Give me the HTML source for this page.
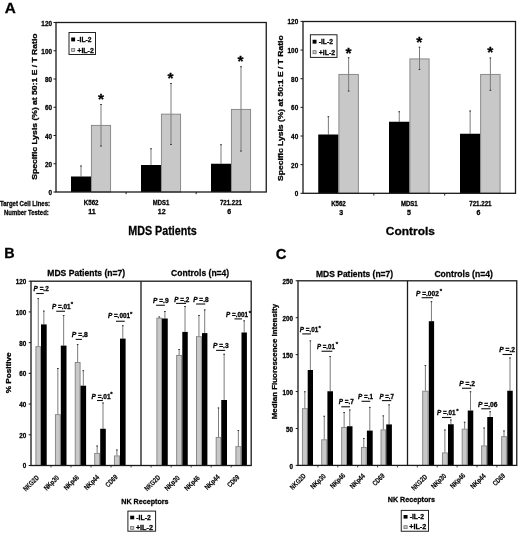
<!DOCTYPE html>
<html><head><meta charset="utf-8"><style>
html,body{margin:0;padding:0;background:#fff;}
svg{display:block;filter:grayscale(1) blur(0.3px);font-family:"Liberation Sans", sans-serif;}
text{stroke:#000;stroke-width:0.28px;}
</style></head><body>
<svg width="520" height="534" viewBox="0 0 520 534">
<text x="4.8" y="12.6" font-size="15.3" font-weight="bold" text-anchor="start" fill="#000">A</text>
<line x1="53.5" y1="192.0" x2="56" y2="192.0" stroke="#1a1a1a" stroke-width="1"/>
<text x="52" y="195.0" font-size="6.5" font-weight="bold" text-anchor="end" fill="#000" textLength="3.55" lengthAdjust="spacingAndGlyphs">0</text>
<line x1="53.5" y1="163.75" x2="56" y2="163.75" stroke="#1a1a1a" stroke-width="1"/>
<text x="52" y="166.75" font-size="6.5" font-weight="bold" text-anchor="end" fill="#000" textLength="7.1" lengthAdjust="spacingAndGlyphs">20</text>
<line x1="53.5" y1="135.5" x2="56" y2="135.5" stroke="#1a1a1a" stroke-width="1"/>
<text x="52" y="138.5" font-size="6.5" font-weight="bold" text-anchor="end" fill="#000" textLength="7.1" lengthAdjust="spacingAndGlyphs">40</text>
<line x1="53.5" y1="107.25" x2="56" y2="107.25" stroke="#1a1a1a" stroke-width="1"/>
<text x="52" y="110.25" font-size="6.5" font-weight="bold" text-anchor="end" fill="#000" textLength="7.1" lengthAdjust="spacingAndGlyphs">60</text>
<line x1="53.5" y1="79.0" x2="56" y2="79.0" stroke="#1a1a1a" stroke-width="1"/>
<text x="52" y="82.0" font-size="6.5" font-weight="bold" text-anchor="end" fill="#000" textLength="7.1" lengthAdjust="spacingAndGlyphs">80</text>
<line x1="53.5" y1="50.75" x2="56" y2="50.75" stroke="#1a1a1a" stroke-width="1"/>
<text x="52" y="53.75" font-size="6.5" font-weight="bold" text-anchor="end" fill="#000" textLength="10.649999999999999" lengthAdjust="spacingAndGlyphs">100</text>
<line x1="53.5" y1="22.5" x2="56" y2="22.5" stroke="#1a1a1a" stroke-width="1"/>
<text x="52" y="25.5" font-size="6.5" font-weight="bold" text-anchor="end" fill="#000" textLength="10.649999999999999" lengthAdjust="spacingAndGlyphs">120</text>
<line x1="126.08333333333333" y1="192" x2="126.08333333333333" y2="194.2" stroke="#1a1a1a" stroke-width="1"/>
<line x1="196.16666666666666" y1="192" x2="196.16666666666666" y2="194.2" stroke="#1a1a1a" stroke-width="1"/>
<line x1="81.0" y1="165.5" x2="81.0" y2="176.5" stroke="#7c7c7c" stroke-width="1"/>
<line x1="80.2" y1="166.0" x2="81.8" y2="166.0" stroke="#333" stroke-width="1"/>
<rect x="71" y="176.5" width="20" height="15.5" fill="#000"/>
<rect x="91.4" y="125.4" width="19.2" height="66.6" fill="#c8c8c8" stroke="#828282" stroke-width="0.9"/>
<line x1="101.0" y1="104" x2="101.0" y2="146.5" stroke="#7c7c7c" stroke-width="1"/>
<line x1="100.2" y1="104.5" x2="101.8" y2="104.5" stroke="#333" stroke-width="1"/>
<line x1="100.2" y1="146.0" x2="101.8" y2="146.0" stroke="#333" stroke-width="1"/>
<line x1="151.0" y1="148.25" x2="151.0" y2="165" stroke="#7c7c7c" stroke-width="1"/>
<line x1="150.2" y1="148.75" x2="151.8" y2="148.75" stroke="#333" stroke-width="1"/>
<rect x="141" y="165" width="20" height="27" fill="#000"/>
<rect x="161.4" y="114.15" width="19.2" height="77.85" fill="#c8c8c8" stroke="#828282" stroke-width="0.9"/>
<line x1="171.0" y1="83" x2="171.0" y2="145" stroke="#7c7c7c" stroke-width="1"/>
<line x1="170.2" y1="83.5" x2="171.8" y2="83.5" stroke="#333" stroke-width="1"/>
<line x1="170.2" y1="144.5" x2="171.8" y2="144.5" stroke="#333" stroke-width="1"/>
<line x1="221.0" y1="144.25" x2="221.0" y2="163.75" stroke="#7c7c7c" stroke-width="1"/>
<line x1="220.2" y1="144.75" x2="221.8" y2="144.75" stroke="#333" stroke-width="1"/>
<rect x="211" y="163.75" width="20" height="28.25" fill="#000"/>
<rect x="231.4" y="109.4" width="19.2" height="82.6" fill="#c8c8c8" stroke="#828282" stroke-width="0.9"/>
<line x1="241.0" y1="66.25" x2="241.0" y2="151.5" stroke="#7c7c7c" stroke-width="1"/>
<line x1="240.2" y1="66.75" x2="241.8" y2="66.75" stroke="#333" stroke-width="1"/>
<line x1="240.2" y1="151.0" x2="241.8" y2="151.0" stroke="#333" stroke-width="1"/>
<rect x="56" y="22.5" width="210.25" height="169.5" fill="none" stroke="#1a1a1a" stroke-width="1.3"/>
<text x="101" y="103.6" font-size="15.5" font-weight="bold" text-anchor="middle" fill="#000">*</text>
<text x="170.6" y="83.1" font-size="15.5" font-weight="bold" text-anchor="middle" fill="#000">*</text>
<text x="240.4" y="65.9" font-size="15.5" font-weight="bold" text-anchor="middle" fill="#000">*</text>
<rect x="69" y="32.5" width="26.5" height="22.0" fill="#fff" stroke="#222" stroke-width="1"/>
<rect x="71.2" y="37.5" width="3.9" height="3.9" fill="#000"/>
<rect x="71.60000000000001" y="48.4" width="3.1" height="3.1" fill="#c8c8c8" stroke="#777" stroke-width="0.8"/>
<text x="77.3" y="41.9" font-size="7.5" font-weight="bold" text-anchor="start" fill="#000" textLength="14.3" lengthAdjust="spacingAndGlyphs">-IL-2</text>
<text x="77.3" y="52.6" font-size="7.5" font-weight="bold" text-anchor="start" fill="#000" textLength="16.5" lengthAdjust="spacingAndGlyphs">+IL-2</text>
<text transform="translate(36.9,106.65) rotate(-90)" font-size="7.5" font-weight="bold" text-anchor="middle" textLength="146.3" lengthAdjust="spacingAndGlyphs">Specific Lysis (%) at 50:1 E / T Ratio</text>
<line x1="300.5" y1="193.3" x2="303" y2="193.3" stroke="#1a1a1a" stroke-width="1"/>
<text x="298.2" y="196.3" font-size="6.5" font-weight="bold" text-anchor="end" fill="#000" textLength="3.55" lengthAdjust="spacingAndGlyphs">0</text>
<line x1="300.5" y1="164.65" x2="303" y2="164.65" stroke="#1a1a1a" stroke-width="1"/>
<text x="298.2" y="167.65" font-size="6.5" font-weight="bold" text-anchor="end" fill="#000" textLength="7.1" lengthAdjust="spacingAndGlyphs">20</text>
<line x1="300.5" y1="136.0" x2="303" y2="136.0" stroke="#1a1a1a" stroke-width="1"/>
<text x="298.2" y="139.0" font-size="6.5" font-weight="bold" text-anchor="end" fill="#000" textLength="7.1" lengthAdjust="spacingAndGlyphs">40</text>
<line x1="300.5" y1="107.35000000000001" x2="303" y2="107.35000000000001" stroke="#1a1a1a" stroke-width="1"/>
<text x="298.2" y="110.35" font-size="6.5" font-weight="bold" text-anchor="end" fill="#000" textLength="7.1" lengthAdjust="spacingAndGlyphs">60</text>
<line x1="300.5" y1="78.7" x2="303" y2="78.7" stroke="#1a1a1a" stroke-width="1"/>
<text x="298.2" y="81.7" font-size="6.5" font-weight="bold" text-anchor="end" fill="#000" textLength="7.1" lengthAdjust="spacingAndGlyphs">80</text>
<line x1="300.5" y1="50.05000000000001" x2="303" y2="50.05000000000001" stroke="#1a1a1a" stroke-width="1"/>
<text x="298.2" y="53.05" font-size="6.5" font-weight="bold" text-anchor="end" fill="#000" textLength="10.649999999999999" lengthAdjust="spacingAndGlyphs">100</text>
<line x1="300.5" y1="21.400000000000006" x2="303" y2="21.400000000000006" stroke="#1a1a1a" stroke-width="1"/>
<text x="298.2" y="24.4" font-size="6.5" font-weight="bold" text-anchor="end" fill="#000" textLength="10.649999999999999" lengthAdjust="spacingAndGlyphs">120</text>
<line x1="373.8333333333333" y1="193.3" x2="373.8333333333333" y2="195.5" stroke="#1a1a1a" stroke-width="1"/>
<line x1="444.66666666666663" y1="193.3" x2="444.66666666666663" y2="195.5" stroke="#1a1a1a" stroke-width="1"/>
<line x1="328.375" y1="116.25" x2="328.375" y2="134.5" stroke="#7c7c7c" stroke-width="1"/>
<line x1="327.575" y1="116.75" x2="329.175" y2="116.75" stroke="#333" stroke-width="1"/>
<rect x="318.25" y="134.5" width="20.25" height="58.80000000000001" fill="#000"/>
<rect x="338.9" y="74.4" width="19.45" height="118.9" fill="#c8c8c8" stroke="#828282" stroke-width="0.9"/>
<line x1="348.625" y1="57.25" x2="348.625" y2="91.5" stroke="#7c7c7c" stroke-width="1"/>
<line x1="347.825" y1="57.75" x2="349.425" y2="57.75" stroke="#333" stroke-width="1"/>
<line x1="347.825" y1="91.0" x2="349.425" y2="91.0" stroke="#333" stroke-width="1"/>
<line x1="399.25" y1="111.25" x2="399.25" y2="121.75" stroke="#7c7c7c" stroke-width="1"/>
<line x1="398.45" y1="111.75" x2="400.05" y2="111.75" stroke="#333" stroke-width="1"/>
<rect x="389" y="121.75" width="20.5" height="71.55000000000001" fill="#000"/>
<rect x="409.9" y="58.9" width="19.2" height="134.4" fill="#c8c8c8" stroke="#828282" stroke-width="0.9"/>
<line x1="419.5" y1="46.75" x2="419.5" y2="70" stroke="#7c7c7c" stroke-width="1"/>
<line x1="418.7" y1="47.25" x2="420.3" y2="47.25" stroke="#333" stroke-width="1"/>
<line x1="418.7" y1="69.5" x2="420.3" y2="69.5" stroke="#333" stroke-width="1"/>
<line x1="470.125" y1="110.5" x2="470.125" y2="133.75" stroke="#7c7c7c" stroke-width="1"/>
<line x1="469.325" y1="111.0" x2="470.925" y2="111.0" stroke="#333" stroke-width="1"/>
<rect x="460" y="133.75" width="20.25" height="59.55000000000001" fill="#000"/>
<rect x="480.65" y="74.4" width="19.45" height="118.9" fill="#c8c8c8" stroke="#828282" stroke-width="0.9"/>
<line x1="490.375" y1="57.5" x2="490.375" y2="90.75" stroke="#7c7c7c" stroke-width="1"/>
<line x1="489.575" y1="58.0" x2="491.175" y2="58.0" stroke="#333" stroke-width="1"/>
<line x1="489.575" y1="90.25" x2="491.175" y2="90.25" stroke="#333" stroke-width="1"/>
<rect x="303" y="21.5" width="212.5" height="171.8" fill="none" stroke="#1a1a1a" stroke-width="1.3"/>
<text x="348.4" y="58.1" font-size="15.5" font-weight="bold" text-anchor="middle" fill="#000">*</text>
<text x="419.2" y="47.1" font-size="15.5" font-weight="bold" text-anchor="middle" fill="#000">*</text>
<text x="490.2" y="57.4" font-size="15.5" font-weight="bold" text-anchor="middle" fill="#000">*</text>
<rect x="310.4" y="34.75" width="26.600000000000023" height="22.65" fill="#fff" stroke="#222" stroke-width="1"/>
<rect x="312.59999999999997" y="39.75" width="3.9" height="3.9" fill="#000"/>
<rect x="312.99999999999994" y="50.65" width="3.1" height="3.1" fill="#c8c8c8" stroke="#777" stroke-width="0.8"/>
<text x="318.7" y="44.15" font-size="7.5" font-weight="bold" text-anchor="start" fill="#000" textLength="14.3" lengthAdjust="spacingAndGlyphs">-IL-2</text>
<text x="318.7" y="54.85" font-size="7.5" font-weight="bold" text-anchor="start" fill="#000" textLength="16.5" lengthAdjust="spacingAndGlyphs">+IL-2</text>
<text transform="translate(283,108.2) rotate(-90)" font-size="7.5" font-weight="bold" text-anchor="middle" textLength="145.6" lengthAdjust="spacingAndGlyphs">Specific Lysis (%) at 50:1 E / T Ratio</text>
<text x="0" y="205.6" font-size="7" font-weight="bold" text-anchor="start" fill="#000" textLength="50" lengthAdjust="spacingAndGlyphs">Target Cell Lines:</text>
<text x="48.75" y="214.9" font-size="7" font-weight="bold" text-anchor="end" fill="#000" textLength="44.75" lengthAdjust="spacingAndGlyphs">Number Tested:</text>
<text x="91.15" y="205.1" font-size="6.5" font-weight="bold" text-anchor="middle" fill="#000" textLength="14.6" lengthAdjust="spacingAndGlyphs">K562</text>
<text x="91.9" y="214.4" font-size="7" font-weight="bold" text-anchor="middle" fill="#000">11</text>
<text x="160.95" y="205.1" font-size="6.5" font-weight="bold" text-anchor="middle" fill="#000" textLength="16.5" lengthAdjust="spacingAndGlyphs">MDS1</text>
<text x="161.65" y="214.4" font-size="7" font-weight="bold" text-anchor="middle" fill="#000">12</text>
<text x="230.95" y="205.1" font-size="6.5" font-weight="bold" text-anchor="middle" fill="#000" textLength="22" lengthAdjust="spacingAndGlyphs">721.221</text>
<text x="229.2" y="214.4" font-size="7" font-weight="bold" text-anchor="middle" fill="#000">6</text>
<text x="338.45" y="206.4" font-size="6.5" font-weight="bold" text-anchor="middle" fill="#000" textLength="14.6" lengthAdjust="spacingAndGlyphs">K562</text>
<text x="341.15" y="214.7" font-size="7" font-weight="bold" text-anchor="middle" fill="#000">3</text>
<text x="409.25" y="206.4" font-size="6.5" font-weight="bold" text-anchor="middle" fill="#000" textLength="16.7" lengthAdjust="spacingAndGlyphs">MDS1</text>
<text x="409.05" y="214.7" font-size="7" font-weight="bold" text-anchor="middle" fill="#000">5</text>
<text x="480.4" y="206.4" font-size="6.5" font-weight="bold" text-anchor="middle" fill="#000" textLength="22.3" lengthAdjust="spacingAndGlyphs">721.221</text>
<text x="478.55" y="214.7" font-size="7" font-weight="bold" text-anchor="middle" fill="#000">6</text>
<text x="128.2" y="234.6" font-size="12.6" font-weight="bold" text-anchor="start" fill="#000" textLength="68.6" lengthAdjust="spacingAndGlyphs">MDS Patients</text>
<text x="385.8" y="234.5" font-size="11.3" font-weight="bold" text-anchor="start" fill="#000" textLength="49.1" lengthAdjust="spacingAndGlyphs">Controls</text>
<line x1="28.7" y1="465.5" x2="31" y2="465.5" stroke="#1a1a1a" stroke-width="1"/>
<text x="26.3" y="468.4" font-size="6.5" font-weight="bold" text-anchor="end" fill="#000" textLength="3.5" lengthAdjust="spacingAndGlyphs">0</text>
<line x1="28.7" y1="434.784" x2="31" y2="434.784" stroke="#1a1a1a" stroke-width="1"/>
<text x="26.3" y="437.68" font-size="6.5" font-weight="bold" text-anchor="end" fill="#000" textLength="7.0" lengthAdjust="spacingAndGlyphs">20</text>
<line x1="28.7" y1="404.068" x2="31" y2="404.068" stroke="#1a1a1a" stroke-width="1"/>
<text x="26.3" y="406.97" font-size="6.5" font-weight="bold" text-anchor="end" fill="#000" textLength="7.0" lengthAdjust="spacingAndGlyphs">40</text>
<line x1="28.7" y1="373.352" x2="31" y2="373.352" stroke="#1a1a1a" stroke-width="1"/>
<text x="26.3" y="376.25" font-size="6.5" font-weight="bold" text-anchor="end" fill="#000" textLength="7.0" lengthAdjust="spacingAndGlyphs">60</text>
<line x1="28.7" y1="342.63599999999997" x2="31" y2="342.63599999999997" stroke="#1a1a1a" stroke-width="1"/>
<text x="26.3" y="345.54" font-size="6.5" font-weight="bold" text-anchor="end" fill="#000" textLength="7.0" lengthAdjust="spacingAndGlyphs">80</text>
<line x1="28.7" y1="311.91999999999996" x2="31" y2="311.91999999999996" stroke="#1a1a1a" stroke-width="1"/>
<text x="26.3" y="314.82" font-size="6.5" font-weight="bold" text-anchor="end" fill="#000" textLength="10.5" lengthAdjust="spacingAndGlyphs">100</text>
<line x1="28.7" y1="281.204" x2="31" y2="281.204" stroke="#1a1a1a" stroke-width="1"/>
<text x="26.3" y="284.1" font-size="6.5" font-weight="bold" text-anchor="end" fill="#000" textLength="10.5" lengthAdjust="spacingAndGlyphs">120</text>
<line x1="51.018181818181816" y1="465.5" x2="51.018181818181816" y2="467.5" stroke="#1a1a1a" stroke-width="0.8"/>
<line x1="71.03636363636363" y1="465.5" x2="71.03636363636363" y2="467.5" stroke="#1a1a1a" stroke-width="0.8"/>
<line x1="91.05454545454545" y1="465.5" x2="91.05454545454545" y2="467.5" stroke="#1a1a1a" stroke-width="0.8"/>
<line x1="111.07272727272726" y1="465.5" x2="111.07272727272726" y2="467.5" stroke="#1a1a1a" stroke-width="0.8"/>
<line x1="131.09090909090907" y1="465.5" x2="131.09090909090907" y2="467.5" stroke="#1a1a1a" stroke-width="0.8"/>
<line x1="151.1090909090909" y1="465.5" x2="151.1090909090909" y2="467.5" stroke="#1a1a1a" stroke-width="0.8"/>
<line x1="171.12727272727273" y1="465.5" x2="171.12727272727273" y2="467.5" stroke="#1a1a1a" stroke-width="0.8"/>
<line x1="191.14545454545453" y1="465.5" x2="191.14545454545453" y2="467.5" stroke="#1a1a1a" stroke-width="0.8"/>
<line x1="211.16363636363633" y1="465.5" x2="211.16363636363633" y2="467.5" stroke="#1a1a1a" stroke-width="0.8"/>
<line x1="231.18181818181816" y1="465.5" x2="231.18181818181816" y2="467.5" stroke="#1a1a1a" stroke-width="0.8"/>
<line x1="38.25" y1="298.1" x2="38.25" y2="346.25" stroke="#7c7c7c" stroke-width="1"/>
<line x1="37.45" y1="298.6" x2="39.05" y2="298.6" stroke="#333" stroke-width="1"/>
<line x1="43.85" y1="310.6" x2="43.85" y2="324.4" stroke="#7c7c7c" stroke-width="1"/>
<line x1="43.050000000000004" y1="311.1" x2="44.65" y2="311.1" stroke="#333" stroke-width="1"/>
<rect x="35.9" y="346.65" width="4.7" height="118.85" fill="#c8c8c8" stroke="#828282" stroke-width="0.9"/>
<rect x="41" y="324.4" width="5.700000000000003" height="141.10000000000002" fill="#000"/>
<line x1="57.85" y1="368" x2="57.85" y2="414.25" stroke="#7c7c7c" stroke-width="1"/>
<line x1="57.050000000000004" y1="368.5" x2="58.65" y2="368.5" stroke="#333" stroke-width="1"/>
<line x1="63.65" y1="315" x2="63.65" y2="345.6" stroke="#7c7c7c" stroke-width="1"/>
<line x1="62.85" y1="315.5" x2="64.45" y2="315.5" stroke="#333" stroke-width="1"/>
<rect x="55.4" y="414.65" width="4.9" height="50.85" fill="#c8c8c8" stroke="#828282" stroke-width="0.9"/>
<rect x="60.8" y="345.6" width="5.700000000000003" height="119.89999999999998" fill="#000"/>
<line x1="77.65" y1="344.1" x2="77.65" y2="362.1" stroke="#7c7c7c" stroke-width="1"/>
<line x1="76.85000000000001" y1="344.6" x2="78.45" y2="344.6" stroke="#333" stroke-width="1"/>
<line x1="83.3" y1="370.2" x2="83.3" y2="385.7" stroke="#7c7c7c" stroke-width="1"/>
<line x1="82.5" y1="370.7" x2="84.1" y2="370.7" stroke="#333" stroke-width="1"/>
<rect x="75.2" y="362.5" width="4.9" height="103.0" fill="#c8c8c8" stroke="#828282" stroke-width="0.9"/>
<rect x="80.5" y="385.7" width="5.599999999999994" height="79.80000000000001" fill="#000"/>
<line x1="97.15" y1="445.5" x2="97.15" y2="453" stroke="#7c7c7c" stroke-width="1"/>
<line x1="96.35000000000001" y1="446.0" x2="97.95" y2="446.0" stroke="#333" stroke-width="1"/>
<line x1="103.0" y1="402.5" x2="103.0" y2="428.75" stroke="#7c7c7c" stroke-width="1"/>
<line x1="102.2" y1="403.0" x2="103.8" y2="403.0" stroke="#333" stroke-width="1"/>
<rect x="94.7" y="453.4" width="4.9" height="12.1" fill="#c8c8c8" stroke="#828282" stroke-width="0.9"/>
<rect x="100.2" y="428.75" width="5.599999999999994" height="36.75" fill="#000"/>
<line x1="116.9" y1="449.5" x2="116.9" y2="455.5" stroke="#7c7c7c" stroke-width="1"/>
<line x1="116.10000000000001" y1="450.0" x2="117.7" y2="450.0" stroke="#333" stroke-width="1"/>
<line x1="122.8" y1="325.2" x2="122.8" y2="338.6" stroke="#7c7c7c" stroke-width="1"/>
<line x1="122.0" y1="325.7" x2="123.6" y2="325.7" stroke="#333" stroke-width="1"/>
<rect x="114.4" y="455.9" width="5.0" height="9.6" fill="#c8c8c8" stroke="#828282" stroke-width="0.9"/>
<rect x="120" y="338.6" width="5.599999999999994" height="126.89999999999998" fill="#000"/>
<line x1="159.25" y1="316.5" x2="159.25" y2="317.75" stroke="#7c7c7c" stroke-width="1"/>
<line x1="158.45" y1="317.0" x2="160.05" y2="317.0" stroke="#333" stroke-width="1"/>
<line x1="164.875" y1="311" x2="164.875" y2="318.5" stroke="#7c7c7c" stroke-width="1"/>
<line x1="164.075" y1="311.5" x2="165.675" y2="311.5" stroke="#333" stroke-width="1"/>
<rect x="156.9" y="318.15" width="4.7" height="147.35" fill="#c8c8c8" stroke="#828282" stroke-width="0.9"/>
<rect x="162" y="318.5" width="5.75" height="147.0" fill="#000"/>
<line x1="179.125" y1="349" x2="179.125" y2="355" stroke="#7c7c7c" stroke-width="1"/>
<line x1="178.325" y1="349.5" x2="179.925" y2="349.5" stroke="#333" stroke-width="1"/>
<line x1="185.025" y1="306" x2="185.025" y2="331.9" stroke="#7c7c7c" stroke-width="1"/>
<line x1="184.225" y1="306.5" x2="185.82500000000002" y2="306.5" stroke="#333" stroke-width="1"/>
<rect x="176.65" y="355.4" width="4.95" height="110.1" fill="#c8c8c8" stroke="#828282" stroke-width="0.9"/>
<rect x="182.3" y="331.9" width="5.449999999999989" height="133.60000000000002" fill="#000"/>
<line x1="198.95" y1="315" x2="198.95" y2="336.25" stroke="#7c7c7c" stroke-width="1"/>
<line x1="198.14999999999998" y1="315.5" x2="199.75" y2="315.5" stroke="#333" stroke-width="1"/>
<line x1="204.7" y1="309.4" x2="204.7" y2="333.1" stroke="#7c7c7c" stroke-width="1"/>
<line x1="203.89999999999998" y1="309.9" x2="205.5" y2="309.9" stroke="#333" stroke-width="1"/>
<rect x="196.5" y="336.65" width="4.9" height="128.85" fill="#c8c8c8" stroke="#828282" stroke-width="0.9"/>
<rect x="202" y="333.1" width="5.400000000000006" height="132.39999999999998" fill="#000"/>
<line x1="218.5" y1="407.5" x2="218.5" y2="437" stroke="#7c7c7c" stroke-width="1"/>
<line x1="217.7" y1="408.0" x2="219.3" y2="408.0" stroke="#333" stroke-width="1"/>
<line x1="224.125" y1="353.75" x2="224.125" y2="400" stroke="#7c7c7c" stroke-width="1"/>
<line x1="223.325" y1="354.25" x2="224.925" y2="354.25" stroke="#333" stroke-width="1"/>
<rect x="216.15" y="437.4" width="4.7" height="28.1" fill="#c8c8c8" stroke="#828282" stroke-width="0.9"/>
<rect x="221.25" y="400" width="5.75" height="65.5" fill="#000"/>
<line x1="238.35" y1="430" x2="238.35" y2="446.25" stroke="#7c7c7c" stroke-width="1"/>
<line x1="237.54999999999998" y1="430.5" x2="239.15" y2="430.5" stroke="#333" stroke-width="1"/>
<line x1="244.2" y1="320.3" x2="244.2" y2="332.5" stroke="#7c7c7c" stroke-width="1"/>
<line x1="243.39999999999998" y1="320.8" x2="245.0" y2="320.8" stroke="#333" stroke-width="1"/>
<rect x="235.9" y="446.65" width="4.9" height="18.85" fill="#c8c8c8" stroke="#828282" stroke-width="0.9"/>
<rect x="241.5" y="332.5" width="5.400000000000006" height="133.0" fill="#000"/>
<rect x="31" y="281.2" width="220.2" height="184.3" fill="none" stroke="#1a1a1a" stroke-width="1.3"/>
<line x1="141" y1="281.2" x2="141" y2="465.5" stroke="#1a1a1a" stroke-width="1.3"/>
<text x="33.6" y="291.4" font-size="6.3" font-weight="bold" textLength="15.1" lengthAdjust="spacingAndGlyphs"><tspan font-style="italic">P</tspan> =.2</text>
<line x1="36.25" y1="293.5" x2="43.75" y2="293.5" stroke="#111" stroke-width="1.1"/>
<text x="51.9" y="308.75" font-size="6.3" font-weight="bold" textLength="18.6" lengthAdjust="spacingAndGlyphs"><tspan font-style="italic">P</tspan> =.01</text>
<line x1="56.25" y1="311.25" x2="65" y2="311.25" stroke="#111" stroke-width="1.1"/>
<text x="71.8" y="306.35" font-size="6" font-weight="bold" text-anchor="middle" fill="#000">*</text>
<text x="71.8" y="337.3" font-size="6.3" font-weight="bold" textLength="16" lengthAdjust="spacingAndGlyphs"><tspan font-style="italic">P</tspan> =.8</text>
<line x1="75.7" y1="339.4" x2="81.9" y2="339.4" stroke="#111" stroke-width="1.1"/>
<text x="91.6" y="398.8" font-size="6.3" font-weight="bold" textLength="18.9" lengthAdjust="spacingAndGlyphs"><tspan font-style="italic">P</tspan> =.01</text>
<line x1="97" y1="400.5" x2="102.9" y2="400.5" stroke="#111" stroke-width="1.1"/>
<text x="111.5" y="396.40000000000003" font-size="6" font-weight="bold" text-anchor="middle" fill="#000">*</text>
<text x="107.9" y="318.1" font-size="6.3" font-weight="bold" textLength="22.1" lengthAdjust="spacingAndGlyphs"><tspan font-style="italic">P</tspan> =.001</text>
<line x1="116" y1="321.25" x2="124.75" y2="321.25" stroke="#111" stroke-width="1.1"/>
<text x="131.2" y="315.70000000000005" font-size="6" font-weight="bold" text-anchor="middle" fill="#000">*</text>
<text x="153" y="302.75" font-size="6.3" font-weight="bold" textLength="15.6" lengthAdjust="spacingAndGlyphs"><tspan font-style="italic">P</tspan> =.9</text>
<line x1="156.1" y1="305.25" x2="164.9" y2="305.25" stroke="#111" stroke-width="1.1"/>
<text x="174.25" y="301.9" font-size="6.3" font-weight="bold" textLength="15" lengthAdjust="spacingAndGlyphs"><tspan font-style="italic">P</tspan> =.2</text>
<line x1="176.1" y1="303.4" x2="186.1" y2="303.4" stroke="#111" stroke-width="1.1"/>
<text x="193.25" y="301.9" font-size="6.3" font-weight="bold" textLength="15.3" lengthAdjust="spacingAndGlyphs"><tspan font-style="italic">P</tspan> =.8</text>
<line x1="196.1" y1="304" x2="205.25" y2="304" stroke="#111" stroke-width="1.1"/>
<text x="212.9" y="348" font-size="6.3" font-weight="bold" textLength="15.7" lengthAdjust="spacingAndGlyphs"><tspan font-style="italic">P</tspan> =.3</text>
<line x1="216.1" y1="350.4" x2="225.2" y2="350.4" stroke="#111" stroke-width="1.1"/>
<text x="226" y="316.9" font-size="6.3" font-weight="bold" textLength="22" lengthAdjust="spacingAndGlyphs"><tspan font-style="italic">P</tspan> =.001</text>
<line x1="234.5" y1="318.9" x2="242" y2="318.9" stroke="#111" stroke-width="1.1"/>
<text x="250" y="314.5" font-size="6" font-weight="bold" text-anchor="middle" fill="#000">*</text>
<text transform="translate(32.75,485.05) rotate(-45)" font-size="7.2" style="stroke-width:0.15px" font-weight="bold" text-anchor="middle" textLength="19.2" lengthAdjust="spacingAndGlyphs">NKG2D</text>
<text transform="translate(53.10,484.60) rotate(-45)" font-size="7.2" style="stroke-width:0.15px" font-weight="bold" text-anchor="middle" textLength="18.2" lengthAdjust="spacingAndGlyphs">NKp30</text>
<text transform="translate(73.10,484.30) rotate(-45)" font-size="7.2" style="stroke-width:0.15px" font-weight="bold" text-anchor="middle" textLength="18.2" lengthAdjust="spacingAndGlyphs">NKp46</text>
<text transform="translate(93.45,484.05) rotate(-45)" font-size="7.2" style="stroke-width:0.15px" font-weight="bold" text-anchor="middle" textLength="18.2" lengthAdjust="spacingAndGlyphs">NKp44</text>
<text transform="translate(113.15,482.65) rotate(-45)" font-size="7.2" style="stroke-width:0.15px" font-weight="bold" text-anchor="middle" textLength="14.2" lengthAdjust="spacingAndGlyphs">CD69</text>
<text transform="translate(154.00,484.80) rotate(-45)" font-size="7.2" style="stroke-width:0.15px" font-weight="bold" text-anchor="middle" textLength="19.2" lengthAdjust="spacingAndGlyphs">NKG2D</text>
<text transform="translate(173.90,484.80) rotate(-45)" font-size="7.2" style="stroke-width:0.15px" font-weight="bold" text-anchor="middle" textLength="18.2" lengthAdjust="spacingAndGlyphs">NKp30</text>
<text transform="translate(193.80,484.80) rotate(-45)" font-size="7.2" style="stroke-width:0.15px" font-weight="bold" text-anchor="middle" textLength="18.2" lengthAdjust="spacingAndGlyphs">NKp46</text>
<text transform="translate(213.90,483.90) rotate(-45)" font-size="7.2" style="stroke-width:0.15px" font-weight="bold" text-anchor="middle" textLength="18.2" lengthAdjust="spacingAndGlyphs">NKp44</text>
<text transform="translate(234.95,482.80) rotate(-45)" font-size="7.2" style="stroke-width:0.15px" font-weight="bold" text-anchor="middle" textLength="14.2" lengthAdjust="spacingAndGlyphs">CD69</text>
<text x="47.3" y="275.8" font-size="9.6" font-weight="bold" text-anchor="start" fill="#000" textLength="77.8" lengthAdjust="spacingAndGlyphs">MDS Patients (n=7)</text>
<text x="171.1" y="275.7" font-size="9.6" font-weight="bold" text-anchor="start" fill="#000" textLength="58.1" lengthAdjust="spacingAndGlyphs">Controls (n=4)</text>
<text transform="translate(11.2,372.9) rotate(-90)" font-size="7" font-weight="bold" text-anchor="middle" textLength="40.8" lengthAdjust="spacingAndGlyphs">% Positive</text>
<text x="121.3" y="504.1" font-size="7.6" font-weight="bold" text-anchor="start" fill="#000" textLength="47.3" lengthAdjust="spacingAndGlyphs">NK Receptors</text>
<rect x="127.9" y="511.1" width="27.69999999999999" height="20.100000000000023" fill="#fff" stroke="#222" stroke-width="1"/>
<rect x="130.20000000000002" y="515.7" width="4.0" height="3.6" fill="#000"/>
<rect x="130.60000000000002" y="526.4" width="3.2" height="2.9" fill="#c8c8c8" stroke="#777" stroke-width="0.8"/>
<text x="136.3" y="519.8000000000001" font-size="7" font-weight="bold" text-anchor="start" fill="#000" textLength="14.4" lengthAdjust="spacingAndGlyphs">-IL-2</text>
<text x="135.9" y="529.5" font-size="7" font-weight="bold" text-anchor="start" fill="#000" textLength="17" lengthAdjust="spacingAndGlyphs">+IL-2</text>
<text x="4.3" y="258.4" font-size="15.3" font-weight="bold" text-anchor="start" fill="#000" textLength="10.4" lengthAdjust="spacingAndGlyphs">B</text>
<line x1="295.7" y1="465.4" x2="298" y2="465.4" stroke="#1a1a1a" stroke-width="1"/>
<text x="292.9" y="468.6" font-size="6.5" font-weight="bold" text-anchor="end" fill="#000" textLength="3.5" lengthAdjust="spacingAndGlyphs">0</text>
<line x1="295.7" y1="428.47499999999997" x2="298" y2="428.47499999999997" stroke="#1a1a1a" stroke-width="1"/>
<text x="292.9" y="431.67" font-size="6.5" font-weight="bold" text-anchor="end" fill="#000" textLength="7.0" lengthAdjust="spacingAndGlyphs">50</text>
<line x1="295.7" y1="391.54999999999995" x2="298" y2="391.54999999999995" stroke="#1a1a1a" stroke-width="1"/>
<text x="292.9" y="394.75" font-size="6.5" font-weight="bold" text-anchor="end" fill="#000" textLength="10.5" lengthAdjust="spacingAndGlyphs">100</text>
<line x1="295.7" y1="354.625" x2="298" y2="354.625" stroke="#1a1a1a" stroke-width="1"/>
<text x="292.9" y="357.82" font-size="6.5" font-weight="bold" text-anchor="end" fill="#000" textLength="10.5" lengthAdjust="spacingAndGlyphs">150</text>
<line x1="295.7" y1="317.69999999999993" x2="298" y2="317.69999999999993" stroke="#1a1a1a" stroke-width="1"/>
<text x="292.9" y="320.9" font-size="6.5" font-weight="bold" text-anchor="end" fill="#000" textLength="10.5" lengthAdjust="spacingAndGlyphs">200</text>
<line x1="295.7" y1="280.775" x2="298" y2="280.775" stroke="#1a1a1a" stroke-width="1"/>
<text x="292.9" y="283.97" font-size="6.5" font-weight="bold" text-anchor="end" fill="#000" textLength="10.5" lengthAdjust="spacingAndGlyphs">250</text>
<line x1="317.8863636363636" y1="465.4" x2="317.8863636363636" y2="467.4" stroke="#1a1a1a" stroke-width="0.8"/>
<line x1="337.77272727272725" y1="465.4" x2="337.77272727272725" y2="467.4" stroke="#1a1a1a" stroke-width="0.8"/>
<line x1="357.6590909090909" y1="465.4" x2="357.6590909090909" y2="467.4" stroke="#1a1a1a" stroke-width="0.8"/>
<line x1="377.54545454545456" y1="465.4" x2="377.54545454545456" y2="467.4" stroke="#1a1a1a" stroke-width="0.8"/>
<line x1="397.4318181818182" y1="465.4" x2="397.4318181818182" y2="467.4" stroke="#1a1a1a" stroke-width="0.8"/>
<line x1="417.3181818181818" y1="465.4" x2="417.3181818181818" y2="467.4" stroke="#1a1a1a" stroke-width="0.8"/>
<line x1="437.2045454545455" y1="465.4" x2="437.2045454545455" y2="467.4" stroke="#1a1a1a" stroke-width="0.8"/>
<line x1="457.0909090909091" y1="465.4" x2="457.0909090909091" y2="467.4" stroke="#1a1a1a" stroke-width="0.8"/>
<line x1="476.97727272727275" y1="465.4" x2="476.97727272727275" y2="467.4" stroke="#1a1a1a" stroke-width="0.8"/>
<line x1="496.8636363636364" y1="465.4" x2="496.8636363636364" y2="467.4" stroke="#1a1a1a" stroke-width="0.8"/>
<line x1="304.85" y1="391.25" x2="304.85" y2="408.25" stroke="#7c7c7c" stroke-width="1"/>
<line x1="304.05" y1="391.75" x2="305.65000000000003" y2="391.75" stroke="#333" stroke-width="1"/>
<line x1="310.35" y1="340.4" x2="310.35" y2="370" stroke="#7c7c7c" stroke-width="1"/>
<line x1="309.55" y1="340.9" x2="311.15000000000003" y2="340.9" stroke="#333" stroke-width="1"/>
<rect x="302.4" y="408.65" width="4.9" height="56.75" fill="#c8c8c8" stroke="#828282" stroke-width="0.9"/>
<rect x="307.7" y="370" width="5.300000000000011" height="95.39999999999998" fill="#000"/>
<line x1="324.25" y1="415.8" x2="324.25" y2="439.4" stroke="#7c7c7c" stroke-width="1"/>
<line x1="323.45" y1="416.3" x2="325.05" y2="416.3" stroke="#333" stroke-width="1"/>
<line x1="330.2" y1="356" x2="330.2" y2="391.25" stroke="#7c7c7c" stroke-width="1"/>
<line x1="329.4" y1="356.5" x2="331.0" y2="356.5" stroke="#333" stroke-width="1"/>
<rect x="321.7" y="439.8" width="5.1" height="25.6" fill="#c8c8c8" stroke="#828282" stroke-width="0.9"/>
<rect x="327.4" y="391.25" width="5.600000000000023" height="74.14999999999998" fill="#000"/>
<line x1="344.125" y1="412" x2="344.125" y2="427" stroke="#7c7c7c" stroke-width="1"/>
<line x1="343.325" y1="412.5" x2="344.925" y2="412.5" stroke="#333" stroke-width="1"/>
<line x1="349.75" y1="409.5" x2="349.75" y2="426.25" stroke="#7c7c7c" stroke-width="1"/>
<line x1="348.95" y1="410.0" x2="350.55" y2="410.0" stroke="#333" stroke-width="1"/>
<rect x="341.65" y="427.4" width="4.95" height="38.0" fill="#c8c8c8" stroke="#828282" stroke-width="0.9"/>
<rect x="347" y="426.25" width="5.5" height="39.14999999999998" fill="#000"/>
<line x1="363.8" y1="438" x2="363.8" y2="447" stroke="#7c7c7c" stroke-width="1"/>
<line x1="363.0" y1="438.5" x2="364.6" y2="438.5" stroke="#333" stroke-width="1"/>
<line x1="369.79999999999995" y1="406.9" x2="369.79999999999995" y2="430.6" stroke="#7c7c7c" stroke-width="1"/>
<line x1="368.99999999999994" y1="407.4" x2="370.59999999999997" y2="407.4" stroke="#333" stroke-width="1"/>
<rect x="361.4" y="447.4" width="4.8" height="18.0" fill="#c8c8c8" stroke="#828282" stroke-width="0.9"/>
<rect x="366.9" y="430.6" width="5.800000000000011" height="34.799999999999955" fill="#000"/>
<line x1="383.3" y1="415.4" x2="383.3" y2="429.5" stroke="#7c7c7c" stroke-width="1"/>
<line x1="382.5" y1="415.9" x2="384.1" y2="415.9" stroke="#333" stroke-width="1"/>
<line x1="389.075" y1="404.4" x2="389.075" y2="424.4" stroke="#7c7c7c" stroke-width="1"/>
<line x1="388.275" y1="404.9" x2="389.875" y2="404.9" stroke="#333" stroke-width="1"/>
<rect x="381.0" y="429.9" width="4.6" height="35.5" fill="#c8c8c8" stroke="#828282" stroke-width="0.9"/>
<rect x="386.25" y="424.4" width="5.649999999999977" height="41.0" fill="#000"/>
<line x1="425.4" y1="365" x2="425.4" y2="390.8" stroke="#7c7c7c" stroke-width="1"/>
<line x1="424.59999999999997" y1="365.5" x2="426.2" y2="365.5" stroke="#333" stroke-width="1"/>
<line x1="431.45000000000005" y1="301.2" x2="431.45000000000005" y2="321.2" stroke="#7c7c7c" stroke-width="1"/>
<line x1="430.65000000000003" y1="301.7" x2="432.25000000000006" y2="301.7" stroke="#333" stroke-width="1"/>
<rect x="422.7" y="391.2" width="5.4" height="74.2" fill="#c8c8c8" stroke="#828282" stroke-width="0.9"/>
<rect x="428.8" y="321.2" width="5.300000000000011" height="144.2" fill="#000"/>
<line x1="444.875" y1="429.5" x2="444.875" y2="452.5" stroke="#7c7c7c" stroke-width="1"/>
<line x1="444.075" y1="430.0" x2="445.675" y2="430.0" stroke="#333" stroke-width="1"/>
<line x1="450.875" y1="419.5" x2="450.875" y2="424.25" stroke="#7c7c7c" stroke-width="1"/>
<line x1="450.075" y1="420.0" x2="451.675" y2="420.0" stroke="#333" stroke-width="1"/>
<rect x="442.4" y="452.9" width="4.95" height="12.5" fill="#c8c8c8" stroke="#828282" stroke-width="0.9"/>
<rect x="448" y="424.25" width="5.75" height="41.14999999999998" fill="#000"/>
<line x1="464.625" y1="421.75" x2="464.625" y2="428.75" stroke="#7c7c7c" stroke-width="1"/>
<line x1="463.825" y1="422.25" x2="465.425" y2="422.25" stroke="#333" stroke-width="1"/>
<line x1="470.5" y1="391.25" x2="470.5" y2="410.5" stroke="#7c7c7c" stroke-width="1"/>
<line x1="469.7" y1="391.75" x2="471.3" y2="391.75" stroke="#333" stroke-width="1"/>
<rect x="462.15" y="429.15" width="4.95" height="36.25" fill="#c8c8c8" stroke="#828282" stroke-width="0.9"/>
<rect x="467.75" y="410.5" width="5.5" height="54.89999999999998" fill="#000"/>
<line x1="484.125" y1="427.5" x2="484.125" y2="445.5" stroke="#7c7c7c" stroke-width="1"/>
<line x1="483.325" y1="428.0" x2="484.925" y2="428.0" stroke="#333" stroke-width="1"/>
<line x1="490.125" y1="411.25" x2="490.125" y2="417" stroke="#7c7c7c" stroke-width="1"/>
<line x1="489.325" y1="411.75" x2="490.925" y2="411.75" stroke="#333" stroke-width="1"/>
<rect x="481.65" y="445.9" width="4.95" height="19.5" fill="#c8c8c8" stroke="#828282" stroke-width="0.9"/>
<rect x="487.25" y="417" width="5.75" height="48.39999999999998" fill="#000"/>
<line x1="504.0" y1="430.5" x2="504.0" y2="436.25" stroke="#7c7c7c" stroke-width="1"/>
<line x1="503.2" y1="431.0" x2="504.8" y2="431.0" stroke="#333" stroke-width="1"/>
<line x1="510.0" y1="357.5" x2="510.0" y2="390.75" stroke="#7c7c7c" stroke-width="1"/>
<line x1="509.2" y1="358.0" x2="510.8" y2="358.0" stroke="#333" stroke-width="1"/>
<rect x="501.65" y="436.65" width="4.7" height="28.75" fill="#c8c8c8" stroke="#828282" stroke-width="0.9"/>
<rect x="507.25" y="390.75" width="5.5" height="74.64999999999998" fill="#000"/>
<rect x="298" y="280.8" width="218.75" height="184.59999999999997" fill="none" stroke="#1a1a1a" stroke-width="1.3"/>
<line x1="407.5" y1="280.8" x2="407.5" y2="465.4" stroke="#1a1a1a" stroke-width="1.3"/>
<text x="299.8" y="332" font-size="6.3" font-weight="bold" textLength="18.5" lengthAdjust="spacingAndGlyphs"><tspan font-style="italic">P</tspan> =.01</text>
<line x1="302.25" y1="333.9" x2="310.9" y2="333.9" stroke="#111" stroke-width="1.1"/>
<text x="319.6" y="329.6" font-size="6" font-weight="bold" text-anchor="middle" fill="#000">*</text>
<text x="317" y="348.8" font-size="6.3" font-weight="bold" textLength="17.9" lengthAdjust="spacingAndGlyphs"><tspan font-style="italic">P</tspan> =.01</text>
<line x1="321.5" y1="351.25" x2="332.3" y2="351.25" stroke="#111" stroke-width="1.1"/>
<text x="336.9" y="346.40000000000003" font-size="6" font-weight="bold" text-anchor="middle" fill="#000">*</text>
<text x="338.75" y="404.3" font-size="6.3" font-weight="bold" textLength="15" lengthAdjust="spacingAndGlyphs"><tspan font-style="italic">P</tspan> =.7</text>
<line x1="341.25" y1="406.8" x2="350" y2="406.8" stroke="#111" stroke-width="1.1"/>
<text x="358" y="398.8" font-size="6.3" font-weight="bold" textLength="15" lengthAdjust="spacingAndGlyphs"><tspan font-style="italic">P</tspan> =.1</text>
<line x1="361.5" y1="401.3" x2="370.25" y2="401.3" stroke="#111" stroke-width="1.1"/>
<text x="379.4" y="398.5" font-size="6.3" font-weight="bold" textLength="14.6" lengthAdjust="spacingAndGlyphs"><tspan font-style="italic">P</tspan> =.7</text>
<line x1="381.9" y1="400.6" x2="391.25" y2="400.6" stroke="#111" stroke-width="1.1"/>
<text x="416" y="295.8" font-size="6.3" font-weight="bold" textLength="22.8" lengthAdjust="spacingAndGlyphs"><tspan font-style="italic">P</tspan> =.002</text>
<line x1="421.7" y1="297.7" x2="432.9" y2="297.7" stroke="#111" stroke-width="1.1"/>
<text x="440.8" y="293.40000000000003" font-size="6" font-weight="bold" text-anchor="middle" fill="#000">*</text>
<text x="437" y="415" font-size="6.3" font-weight="bold" textLength="18.5" lengthAdjust="spacingAndGlyphs"><tspan font-style="italic">P</tspan> =.01</text>
<line x1="442" y1="417.5" x2="451.25" y2="417.5" stroke="#111" stroke-width="1.1"/>
<text x="457.5" y="412.6" font-size="6" font-weight="bold" text-anchor="middle" fill="#000">*</text>
<text x="459.25" y="386" font-size="6.3" font-weight="bold" textLength="15.75" lengthAdjust="spacingAndGlyphs"><tspan font-style="italic">P</tspan> =.2</text>
<line x1="462" y1="388.25" x2="471.25" y2="388.25" stroke="#111" stroke-width="1.1"/>
<text x="478" y="406.8" font-size="6.3" font-weight="bold" textLength="19.5" lengthAdjust="spacingAndGlyphs"><tspan font-style="italic">P</tspan> =.06</text>
<line x1="481.25" y1="408.75" x2="490.5" y2="408.75" stroke="#111" stroke-width="1.1"/>
<text x="499.25" y="351.6" font-size="6.3" font-weight="bold" textLength="15.75" lengthAdjust="spacingAndGlyphs"><tspan font-style="italic">P</tspan> =.2</text>
<line x1="502.5" y1="354.5" x2="512" y2="354.5" stroke="#111" stroke-width="1.1"/>
<text transform="translate(299.60,483.35) rotate(-45)" font-size="7.2" style="stroke-width:0.15px" font-weight="bold" text-anchor="middle" textLength="19.2" lengthAdjust="spacingAndGlyphs">NKG2D</text>
<text transform="translate(319.80,483.10) rotate(-45)" font-size="7.2" style="stroke-width:0.15px" font-weight="bold" text-anchor="middle" textLength="18.2" lengthAdjust="spacingAndGlyphs">NKp30</text>
<text transform="translate(339.40,482.50) rotate(-45)" font-size="7.2" style="stroke-width:0.15px" font-weight="bold" text-anchor="middle" textLength="18.2" lengthAdjust="spacingAndGlyphs">NKp46</text>
<text transform="translate(359.20,482.80) rotate(-45)" font-size="7.2" style="stroke-width:0.15px" font-weight="bold" text-anchor="middle" textLength="18.2" lengthAdjust="spacingAndGlyphs">NKp44</text>
<text transform="translate(380.20,481.35) rotate(-45)" font-size="7.2" style="stroke-width:0.15px" font-weight="bold" text-anchor="middle" textLength="14.2" lengthAdjust="spacingAndGlyphs">CD69</text>
<text transform="translate(421.00,484.20) rotate(-45)" font-size="7.2" style="stroke-width:0.15px" font-weight="bold" text-anchor="middle" textLength="19.2" lengthAdjust="spacingAndGlyphs">NKG2D</text>
<text transform="translate(440.40,482.80) rotate(-45)" font-size="7.2" style="stroke-width:0.15px" font-weight="bold" text-anchor="middle" textLength="18.2" lengthAdjust="spacingAndGlyphs">NKp30</text>
<text transform="translate(459.40,482.50) rotate(-45)" font-size="7.2" style="stroke-width:0.15px" font-weight="bold" text-anchor="middle" textLength="18.2" lengthAdjust="spacingAndGlyphs">NKp46</text>
<text transform="translate(479.80,482.80) rotate(-45)" font-size="7.2" style="stroke-width:0.15px" font-weight="bold" text-anchor="middle" textLength="18.2" lengthAdjust="spacingAndGlyphs">NKp44</text>
<text transform="translate(500.55,481.35) rotate(-45)" font-size="7.2" style="stroke-width:0.15px" font-weight="bold" text-anchor="middle" textLength="14.2" lengthAdjust="spacingAndGlyphs">CD69</text>
<text x="316.05" y="276.7" font-size="9.6" font-weight="bold" text-anchor="start" fill="#000" textLength="77" lengthAdjust="spacingAndGlyphs">MDS Patients (n=7)</text>
<text x="434.4" y="277.4" font-size="9.6" font-weight="bold" text-anchor="start" fill="#000" textLength="58.4" lengthAdjust="spacingAndGlyphs">Controls (n=4)</text>
<text transform="translate(277.2,361.6) rotate(-90)" font-size="7.5" font-weight="bold" text-anchor="middle" textLength="115.4" lengthAdjust="spacingAndGlyphs">Median Fluorescence Intensity</text>
<text x="387.75" y="502.4" font-size="7.6" font-weight="bold" text-anchor="start" fill="#000" textLength="47.3" lengthAdjust="spacingAndGlyphs">NK Receptors</text>
<rect x="401.25" y="510.4" width="27.25" height="20.850000000000023" fill="#fff" stroke="#222" stroke-width="1"/>
<rect x="403.55" y="515.0" width="4.0" height="3.6" fill="#000"/>
<rect x="403.95" y="525.6999999999999" width="3.2" height="2.9" fill="#c8c8c8" stroke="#777" stroke-width="0.8"/>
<text x="409.65" y="519.1" font-size="7" font-weight="bold" text-anchor="start" fill="#000" textLength="14.4" lengthAdjust="spacingAndGlyphs">-IL-2</text>
<text x="409.25" y="528.8" font-size="7" font-weight="bold" text-anchor="start" fill="#000" textLength="17" lengthAdjust="spacingAndGlyphs">+IL-2</text>
<text x="275.8" y="259.0" font-size="15.3" font-weight="bold" text-anchor="start" fill="#000" textLength="10.7" lengthAdjust="spacingAndGlyphs">C</text>
</svg>
</body></html>
